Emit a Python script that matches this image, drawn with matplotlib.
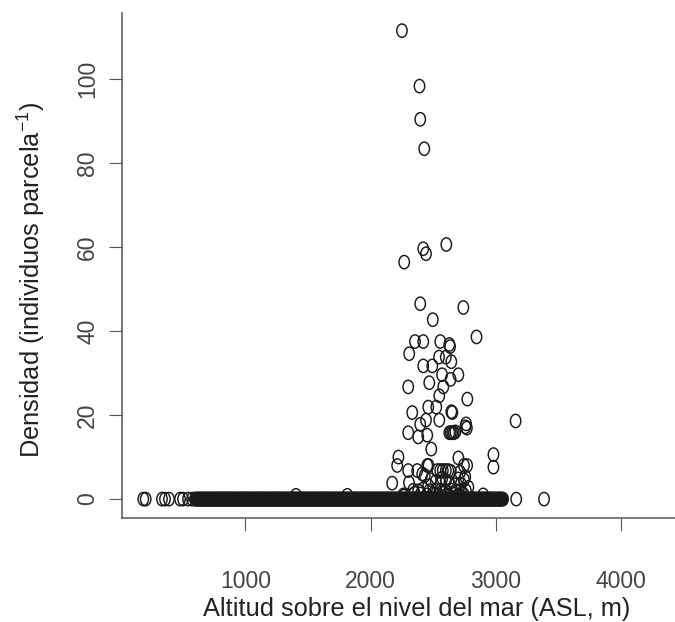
import numpy as np
import matplotlib
matplotlib.use("Agg")
import matplotlib.pyplot as plt
from matplotlib.path import Path
from matplotlib.transforms import Affine2D

# plots with density > 0 (altitude m, individuals per plot)
alt_nonzero = [2250, 2390, 2396, 2428,
               2420, 2442, 2604, 2268,
               2396, 2740, 2496,
               2354, 2420, 2556, 2628, 2634, 2845,
               2308, 2420, 2492, 2546, 2600, 2644,
               2570, 2700, 2638, 2468, 2300, 2580,
               2548, 2772, 2460, 2524, 2332, 2644, 2652,
               2442, 2548, 3157, 2396, 2762, 2768, 2756,
               2300, 2380, 2452, 2628, 2640, 2652, 2664, 2676,
               2484, 2222, 2700, 2980, 2980,
               2212, 2300, 2372, 2452, 2462, 2412, 2432,
               2532, 2556, 2576, 2600, 2620, 2640,
               2745, 2770, 2714, 2755, 2745,
               2172, 2306, 2572, 2600, 2628, 2560, 2670, 2720, 2700, 2520, 2480, 2460,
               2340, 2380, 2420, 2470, 2520, 2560, 2600, 2640, 2680, 2720, 2760, 2780,
               2262, 2350, 2400, 2450, 2500, 2540, 2580, 2620, 2660, 2700, 2740, 2898,
               1404, 1814, 2265]
dens_nonzero = [111.5, 98.3, 90.4, 83.4,
                59.6, 58.4, 60.6, 56.4,
                46.5, 45.6, 42.7,
                37.5, 37.5, 37.5, 36.8, 36.3, 38.6,
                34.6, 31.7, 31.7, 33.8, 33.8, 32.7,
                29.6, 29.6, 28.5, 27.7, 26.7, 26.7,
                24.6, 23.8, 21.9, 21.9, 20.6, 20.8, 20.6,
                18.8, 18.8, 18.6, 17.8, 17.9, 16.9, 17.2,
                15.8, 14.8, 15.2, 15.8, 15.8, 15.8, 15.8, 16.0,
                11.9, 10.0, 9.8, 10.6, 7.6,
                8.0, 6.8, 6.8, 8.0, 8.0, 6.0, 5.6,
                6.8, 6.8, 6.8, 6.8, 6.8, 6.6,
                8.0, 8.0, 6.4, 5.3, 4.6,
                3.8, 3.9, 5.0, 4.4, 3.8, 3.6, 3.4, 3.6, 4.8, 4.2, 4.6, 3.2,
                2.1, 2.0, 2.4, 2.0, 2.2, 2.1, 2.0, 2.2, 2.0, 2.1, 2.0, 2.8,
                1.0, 1.4, 1.2, 1.0, 1.2, 1.0, 1.4, 1.0, 1.2, 1.0, 1.2, 1.0,
                0.9, 0.9, 0.7]

# plots with no individuals (altitude m)
alt_zero = [186, 205, 335, 359, 391, 479, 503, 543, 575,
            598, 604, 609, 615, 622, 627, 633, 641, 647, 651, 656, 663, 669, 674, 680, 688,
            694, 698, 703, 710, 716, 723, 729, 733, 738, 745, 751, 758, 765, 769, 774, 781,
            787, 792, 797, 805, 811, 815, 820, 827, 833, 840, 846, 851, 856, 862, 868, 875,
            881, 885, 890, 897, 904, 909, 914, 921, 928, 933, 938, 944, 950, 957, 963, 968,
            973, 980, 986, 991, 996, 1003, 1009, 1015, 1021, 1026, 1031, 1038, 1044, 1049,
            1055, 1062, 1068, 1073, 1078, 1085, 1091, 1097, 1103, 1108, 1113, 1120, 1126,
            1132, 1138, 1143, 1148, 1155, 1161, 1166, 1172, 1179, 1185, 1190, 1195, 1202,
            1208, 1214, 1220, 1225, 1230, 1237, 1243, 1249, 1255, 1260, 1265, 1272, 1278,
            1283, 1289, 1296, 1302, 1307, 1312, 1319, 1325, 1331, 1337, 1342, 1347, 1354,
            1360, 1366, 1372, 1377, 1382, 1389, 1395, 1400, 1406, 1413, 1419, 1424, 1429,
            1436, 1442, 1448, 1454, 1459, 1464, 1471, 1477, 1483, 1489, 1494, 1499, 1506,
            1512, 1517, 1523, 1530, 1536, 1541, 1546, 1553, 1559, 1565, 1571, 1576, 1581,
            1588, 1594, 1600, 1606, 1611, 1616, 1623, 1629, 1634, 1640, 1647, 1653, 1658,
            1663, 1670, 1676, 1682, 1688, 1693, 1698, 1705, 1711, 1717, 1723, 1728, 1733,
            1740, 1746, 1751, 1757, 1764, 1770, 1775, 1780, 1787, 1793, 1799, 1805, 1810,
            1815, 1822, 1828, 1834, 1840, 1845, 1850, 1857, 1863, 1868, 1874, 1881, 1887,
            1892, 1897, 1904, 1910, 1916, 1922, 1927, 1932, 1939, 1945, 1951, 1957, 1962,
            1967, 1974, 1980, 1985, 1991, 1998, 2004, 2009, 2014, 2021, 2027, 2033, 2039,
            2044, 2049, 2056, 2062, 2068, 2074, 2079, 2084, 2091, 2097, 2102, 2108, 2115,
            2121, 2126, 2131, 2138, 2144, 2150, 2156, 2161, 2166, 2173, 2179, 2185, 2191,
            2196, 2201, 2208, 2214, 2219, 2225, 2232, 2238, 2243, 2248, 2255, 2261, 2267,
            2273, 2278, 2283, 2290, 2296, 2302, 2308, 2313, 2318, 2325, 2331, 2336, 2342,
            2349, 2355, 2360, 2365, 2372, 2378, 2384, 2390, 2395, 2400, 2407, 2413, 2419,
            2425, 2430, 2435, 2442, 2448, 2453, 2459, 2466, 2472, 2477, 2482, 2489, 2495,
            2501, 2507, 2512, 2517, 2524, 2530, 2536, 2542, 2547, 2552, 2559, 2565, 2570,
            2576, 2583, 2589, 2594, 2599, 2606, 2612, 2618, 2624, 2629, 2634, 2641, 2647,
            2653, 2659, 2664, 2669, 2676, 2682, 2687, 2693, 2700, 2706, 2711, 2716, 2723,
            2729, 2735, 2741, 2746, 2751, 2758, 2764, 2770, 2776, 2781, 2786, 2793, 2799,
            2804, 2810, 2817, 2823, 2828, 2833, 2840, 2846, 2852, 2858, 2863, 2868, 2875,
            2881, 2887, 2893, 2898, 2903, 2910, 2916, 2921, 2927, 2934, 2940, 2945, 2950,
            2957, 2963, 2969, 2975, 2980, 2985, 2992, 2998, 3004, 3010, 3015, 3020, 3027,
            3033, 3038, 3044, 3051, 3057,
            3162, 3384]

x_ticks = [1000, 2000, 3000, 4000]
y_ticks = [0, 20, 40, 60, 80, 100]

altitude = np.array(alt_nonzero + alt_zero, dtype=float)
density = np.array(dens_nonzero + [0.0] * len(alt_zero))

plt.rcParams['font.family'] = ['Liberation Sans', 'DejaVu Sans']
plt.rcParams['mathtext.fontset'] = 'custom'
plt.rcParams['mathtext.rm'] = 'Liberation Sans'
plt.rcParams['mathtext.it'] = 'Liberation Sans:italic'

# R draws pch=1 slightly taller than wide in this figure
ring = Path.unit_circle().transformed(Affine2D().scale(0.78, 1.0))

fig = plt.figure(figsize=(6.75, 6.22), dpi=100)
ax = fig.add_axes([122 / 675, 104 / 622, 1 - 122 / 675, 505 / 622])

ax.scatter(altitude, density, marker=ring, s=9.6 ** 2, facecolors='none',
           edgecolors='#1a1a1a', linewidths=1.05, snap=False)

ax.set_xlim(16, 4429)
ax.set_ylim(-4.5, 115.7)
ax.set_xticks(x_ticks)
ax.set_yticks(y_ticks)

for side in ('top', 'right'):
    ax.spines[side].set_visible(False)
for side in ('left', 'bottom'):
    ax.spines[side].set_color('#555555')
    ax.spines[side].set_linewidth(1.1)

ax.tick_params(axis='both', direction='out', length=9.4, width=0.8,
               color='#555555', labelcolor='#444444', labelsize=16.5)
ax.tick_params(axis='x', pad=28)
ax.tick_params(axis='y', pad=7, labelrotation=90)
for lab in ax.get_yticklabels():
    lab.set_va('center')

ax.set_xlabel('Altitud sobre el nivel del mar (ASL, m)', fontsize=18.3, color='#222222')
ax.set_ylabel('Densidad (individuos parcela$^{-1}$)', fontsize=18.3, color='#222222')
ax.xaxis.set_label_coords(0.533, -0.156)
ax.yaxis.set_label_coords(-0.133, 0.471)

fig.savefig('out.png', dpi=100)
